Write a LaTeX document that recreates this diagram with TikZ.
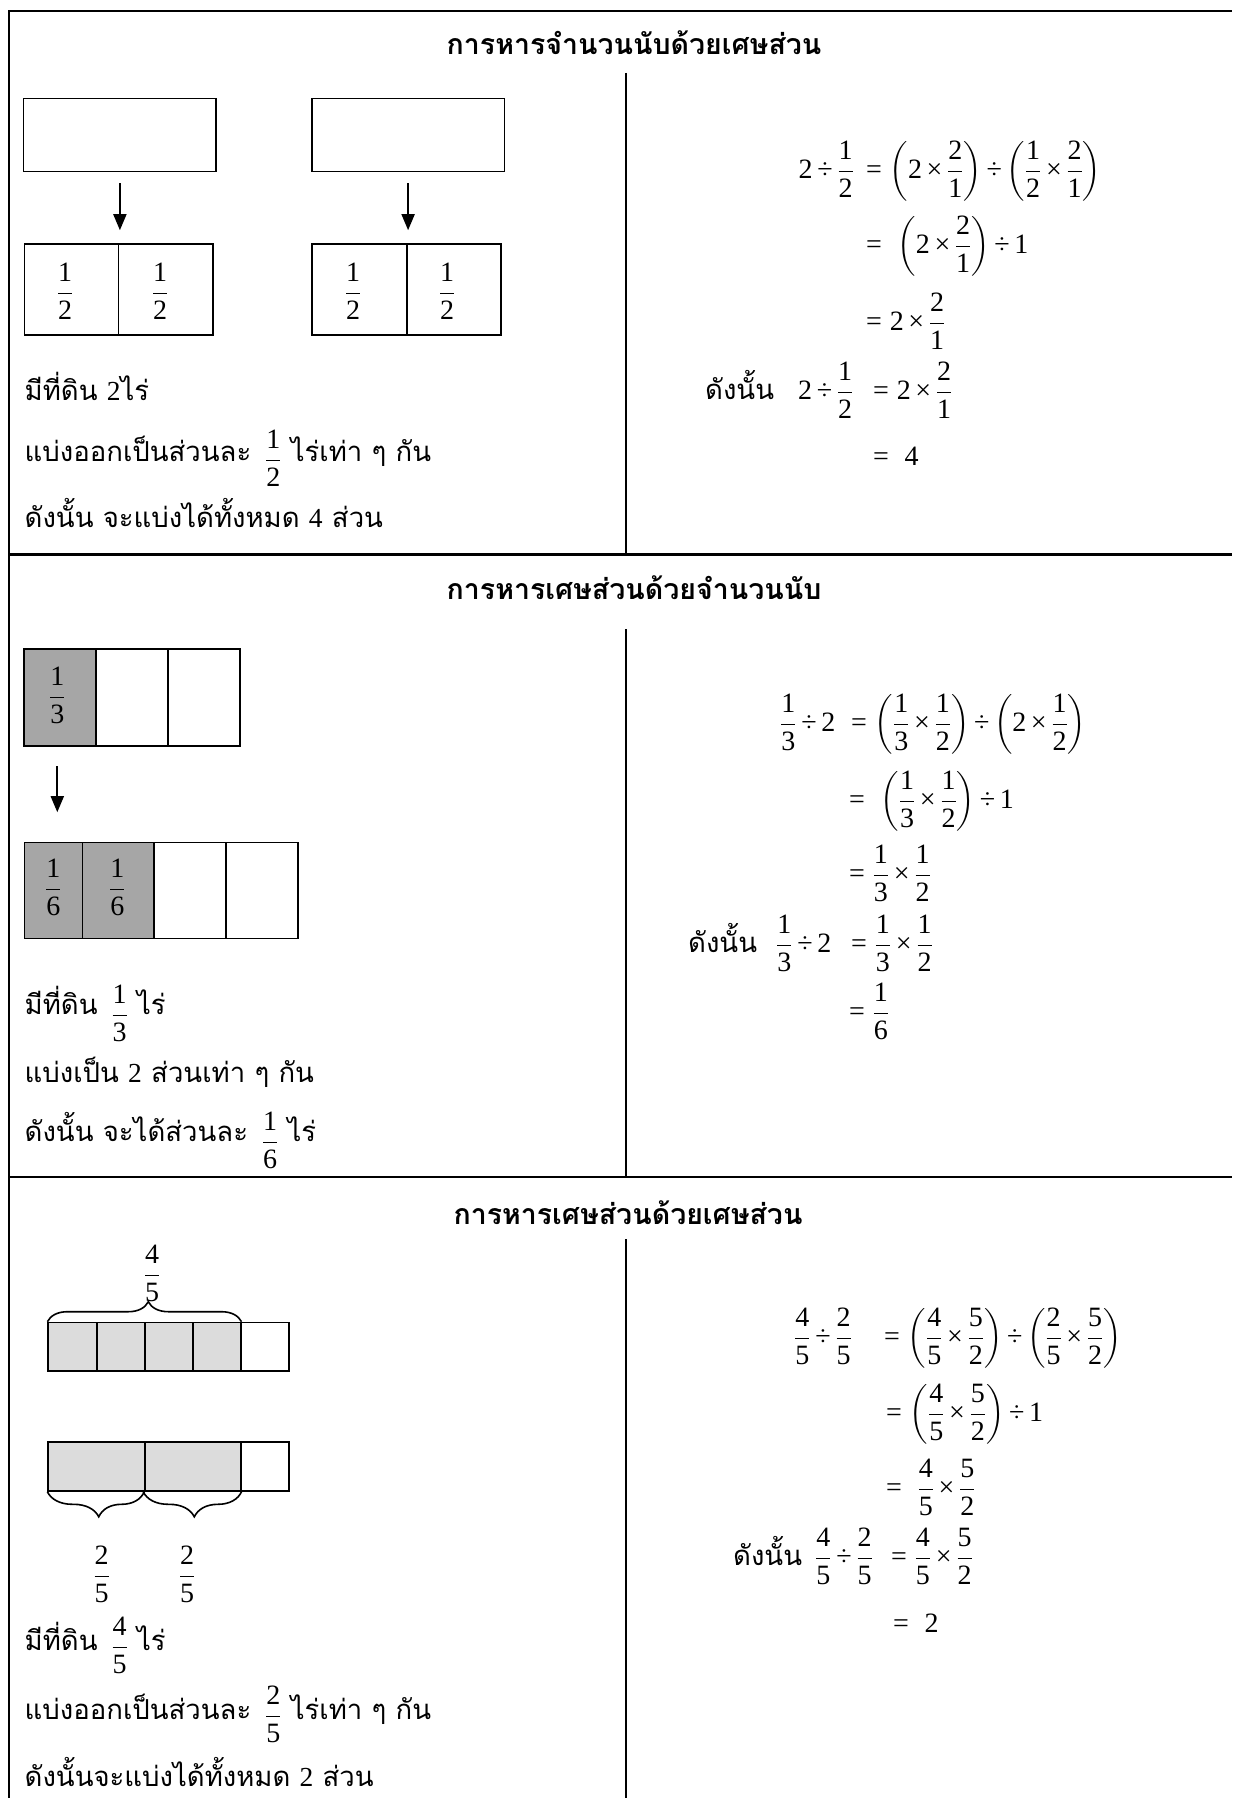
\RequirePackage{fix-cm}
\documentclass[tikz,border=0pt]{standalone}
\usepackage{amsmath}
\usepackage{fontspec}
\setmainfont{Liberation Serif}
\newfontfamily\thai[Script=Thai]{Loma}
\usetikzlibrary{arrows.meta,decorations.pathreplacing}
\definecolor{shadeA}{HTML}{A6A6A6}
\definecolor{shadeB}{HTML}{DCDCDC}
\newcommand\msz{\fontsize{28}{32}\selectfont\medmuskip=3mu plus 1mu minus 1mu}
\newcommand\tsz{\fontsize{27.5}{32}\selectfont}
\newcommand\hsz{\fontsize{28.5}{33}\selectfont}
\newcommand\dg[1]{\hbox{\rmfamily\fontsize{28}{32}\selectfont #1}}
\newcommand\fr[2]{\dfrac{\dg{#1}}{\dg{#2}}}
\newcommand\mtimes{\mathbin{\dg{×}}}
\newcommand\mdiv{\mathbin{\dg{÷}}}
\newcommand\meq{\mathrel{\dg{=}}}
\newcommand\tf[3][-6pt]{\raisebox{#1}{\msz\rmfamily$\fr{#2}{#3}$}}
\newcommand\nm[1]{{\rmfamily #1}}
\begin{document}
\begin{tikzpicture}[x=1pt,y=-1pt,
  frame/.style={line width=2.3pt},
  colline/.style={line width=2pt},
  cell/.style={draw, line width=1.6pt, inner sep=0pt, minimum width=#1},
  arr/.style={-{Triangle[length=16pt,width=13pt]}, line width=1.8pt},
  brc/.style={decorate, line width=1.6pt},
  title/.style={font=\thai\bfseries\hsz, inner sep=0pt, anchor=base},
  thaitext/.style={font=\thai\tsz, inner sep=0pt, anchor=base west},
  mth/.style={font=\msz, inner sep=0pt, anchor=base west},
  frc/.style={font=\msz, inner sep=0pt, anchor=base}]
\useasboundingbox (0,0) rectangle (1232,1798);
% frame
\coordinate (tl) at (8.7,11);
\coordinate (tr) at (1232,11);
\coordinate (bl) at (8.7,1798);
\coordinate (s1l) at (8.7,554.6);
\coordinate (s1r) at (1232,554.6);
\coordinate (s2l) at (8.7,1177);
\coordinate (s2r) at (1232,1177);
\draw[frame] (bl) -- (tl) -- (tr);
\draw[frame] (s1l) -- (s1r);
\draw[frame] (s2l) -- (s2r);
\coordinate (v1a) at (625.5,73);
\coordinate (v2a) at (625.5,629);
\coordinate (v3a) at (625.5,1239);
\coordinate (v3b) at (625.5,1798);
\draw[colline] (v1a) -- (v1a |- s1l);
\draw[colline] (v2a) -- (v2a |- s2l);
\draw[colline] (v3a) -- (v3b);

% ===== Row 1 =====
\node[title] (h1) at (634,55) {การหารจำนวนนับด้วยเศษส่วน};
\node[cell=192.5pt, minimum height=72.8pt] (ba) at (119.9,135) {};
\node[cell=192.4pt, minimum height=72.8pt] (bb) at (408.1,135) {};
\node[cell=94.1pt, minimum height=91pt] (bc1) at (71.55,289.5) {};
\node[cell=94.4pt, minimum height=91pt] (bc2) at (165.8,289.5) {};
\node[cell=94.7pt, minimum height=91pt] (bd1) at (359.35,289.5) {};
\node[cell=94.3pt, minimum height=91pt] (bd2) at (453.85,289.5) {};
\draw[arr, shorten <=11pt, shorten >=13pt] (ba.south) -- (ba.south |- bc1.north);
\draw[arr, shorten <=11pt, shorten >=13pt] (bb.south) -- (bb.south |- bd1.north);
\node[frc] (fc1) at (65,300) {$\fr12$};
\node[frc] (fc2) at (160,300) {$\fr12$};
\node[frc] (fd1) at (353,300) {$\fr12$};
\node[frc] (fd2) at (447,300) {$\fr12$};
\node[thaitext] (t11) at (24.5,400) {มีที่ดิน \nm{2}ไร่};
\node[thaitext] (t12) at (24.5,461) {แบ่งออกเป็นส่วนละ \,\tf12 ไร่เท่า ๆ กัน};
\node[thaitext] (t13) at (24.5,527) {ดังนั้น จะแบ่งได้ทั้งหมด \nm{4} ส่วน};
% math
\node[mth, anchor=base east] (m11l) at (854,178.5) {$\dg2\mdiv\fr12$};
\node[mth] (m11r) at (866,178.5) {$\meq\left(\dg2\mtimes\fr21\right)\mdiv\left(\fr12\mtimes\fr21\right)$};
\node[mth] (m12) at (866,253.5) {$\meq\;\left(\dg2\mtimes\fr21\right)\mdiv\dg1$};
\node[mth] (m13) at (866,330.5) {$\meq\dg2\mtimes\fr21$};
\node[thaitext] (m14t) at (705,399.5) {ดังนั้น};
\node[mth] (m14l) at (798,399.5) {$\dg2\mdiv\fr12$};
\node[mth] (m14r) at (873,399.5) {$\meq\dg2\mtimes\fr21$};
\node[mth] (m15) at (873,465.5) {$\meq\;\dg4$};

% ===== Row 2 =====
\node[title] (h2) at (634,599) {การหารเศษส่วนด้วยจำนวนนับ};
\node[cell=72pt, minimum height=97pt, fill=shadeA] (ta1) at (59.7,697.5) {};
\node[cell=72.3pt, minimum height=97pt] (ta2) at (131.85,697.5) {};
\node[cell=72pt, minimum height=97pt] (ta3) at (204,697.5) {};
\node[cell=58.1pt, minimum height=96pt, fill=shadeA] (tb1) at (53.55,890.6) {};
\node[cell=71.2pt, minimum height=96pt, fill=shadeA] (tb2) at (118.2,890.6) {};
\node[cell=72.2pt, minimum height=96pt] (tb3) at (189.9,890.6) {};
\node[cell=72pt, minimum height=96pt] (tb4) at (262,890.6) {};
\draw[arr, shorten <=19.5pt, shorten >=29.6pt] ([xshift=-2.4pt]ta1.south) -- ([xshift=-2.4pt]ta1.south |- tb1.north);
\node[frc] (fa1) at (57.3,704) {$\fr13$};
\node[frc] (fb1) at (53.4,896) {$\fr16$};
\node[frc] (fb2) at (117.4,896) {$\fr16$};
\node[thaitext] (t21) at (24.5,1014.5) {มีที่ดิน \,\tf[-8pt]13 ไร่};
\node[thaitext] (t22) at (24.5,1082) {แบ่งเป็น \nm{2} ส่วนเท่า ๆ กัน};
\node[thaitext] (t23) at (24.5,1141) {ดังนั้น จะได้ส่วนละ \,\tf[-8pt]16 ไร่};
\node[mth] (m21l) at (780,731) {$\fr13\mdiv\dg2$};
\node[mth] (m21r) at (851,731) {$\meq\left(\fr13\mtimes\fr12\right)\mdiv\left(\dg2\mtimes\fr12\right)$};
\node[mth] (m22) at (849,808.5) {$\meq\;\left(\fr13\mtimes\fr12\right)\mdiv\dg1$};
\node[mth] (m23) at (849,882) {$\meq\fr13\mtimes\fr12$};
\node[thaitext] (m24t) at (688,952.5) {ดังนั้น};
\node[mth] (m24l) at (776,952.5) {$\fr13\mdiv\dg2$};
\node[mth] (m24r) at (851,952.5) {$\meq\fr13\mtimes\fr12$};
\node[mth] (m25) at (849,1020) {$\meq\fr16$};

% ===== Row 3 =====
\node[title] (h3) at (628,1224) {การหารเศษส่วนด้วยเศษส่วน};
\node[cell=48.6pt, minimum height=48.5pt, fill=shadeB] (ua1) at (72.5,1346.75) {};
\node[cell=48.2pt, minimum height=48.5pt, fill=shadeB] (ua2) at (120.9,1346.75) {};
\node[cell=48pt, minimum height=48.5pt, fill=shadeB] (ua3) at (169,1346.75) {};
\node[cell=47.7pt, minimum height=48.5pt, fill=shadeB] (ua4) at (216.85,1346.75) {};
\node[cell=48.3pt, minimum height=48.5pt] (ua5) at (264.85,1346.75) {};
\node[cell=96.8pt, minimum height=49pt, fill=shadeB] (ub1) at (96.6,1466.5) {};
\node[cell=95.7pt, minimum height=49pt, fill=shadeB] (ub2) at (192.85,1466.5) {};
\node[cell=48.3pt, minimum height=49pt] (ub3) at (264.85,1466.5) {};
\draw[brc, decoration={brace, amplitude=20pt, aspect=0.52}] (ua1.north west) -- (ua4.north east);
\draw[brc, decoration={brace, mirror, amplitude=25pt, aspect=0.53}] (ub1.south west) -- ([xshift=-1.5pt]ub1.south east);
\draw[brc, decoration={brace, mirror, amplitude=25pt, aspect=0.52}] ([xshift=-1pt]ub2.south west) -- (ub2.south east);
\node[frc] (l45) at (152,1282) {$\fr45$};
\node[frc] (l25a) at (101.6,1583) {$\fr25$};
\node[frc] (l25b) at (187,1583) {$\fr25$};
\node[thaitext] (t31) at (24.5,1650) {มีที่ดิน \,\tf[-4pt]45 ไร่};
\node[thaitext] (t32) at (24.5,1719) {แบ่งออกเป็นส่วนละ \,\tf[-4pt]25 ไร่เท่า ๆ กัน};
\node[thaitext] (t33) at (24.5,1786) {ดังนั้นจะแบ่งได้ทั้งหมด \nm{2} ส่วน};
\node[mth] (m31l) at (794,1345) {$\fr45\mdiv\fr25$};
\node[mth] (m31r) at (884,1345) {$\meq\left(\fr45\mtimes\fr52\right)\mdiv\left(\fr25\mtimes\fr52\right)$};
\node[mth] (m32) at (886,1421.5) {$\meq\left(\fr45\mtimes\fr52\right)\mdiv\dg1$};
\node[mth] (m33) at (886,1496.5) {$\meq\;\fr45\mtimes\fr52$};
\node[thaitext] (m34t) at (733,1565.5) {ดังนั้น};
\node[mth] (m34l) at (815,1565.5) {$\fr45\mdiv\fr25$};
\node[mth] (m34r) at (891,1565.5) {$\meq\fr45\mtimes\fr52$};
\node[mth] (m35) at (893,1632.5) {$\meq\;\dg2$};
\end{tikzpicture}
\end{document}
